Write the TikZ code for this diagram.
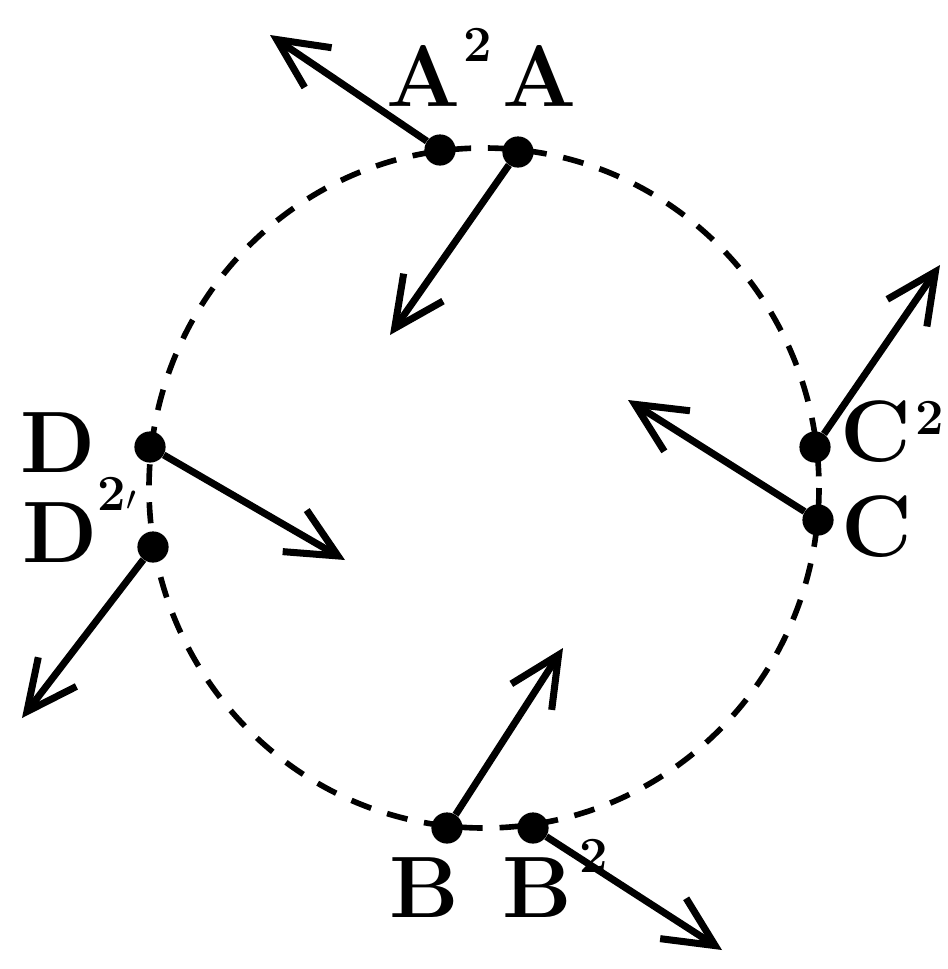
\documentclass[tikz,border=0pt]{standalone}
\usetikzlibrary{arrows.meta}
\begin{document}
\begin{tikzpicture}[x=0.025cm,y=-0.025cm,
  dot/.style={circle,fill,inner sep=0pt,minimum size=0.78cm},
  vec/.style={line width=5pt,-{Straight Barb[length=1.25cm,width=1.2cm,line width=5pt]}},
  lab/.style={inner sep=0pt,font=\fontsize{62}{66}\selectfont\bfseries},
  sup/.style={inner sep=0pt,font=\fontsize{36}{40}\selectfont\bfseries}]
\useasboundingbox[fill=white] (0,0) rectangle (948,969);
\draw[line width=4pt, dash pattern=on 15pt off 12pt] (484,488) ellipse [x radius=335, y radius=340];
% points
\node[dot] (A2) at (440,150) {};
\node[dot] (A)  at (518,152) {};
\node[dot] (C2) at (815,447) {};
\node[dot] (C)  at (818,520) {};
\node[dot] (D)  at (150,447) {};
\node[dot] (D2) at (153,547) {};
\node[dot] (B)  at (447,828) {};
\node[dot] (B2) at (533,828) {};
% arrow ends
\coordinate (eA2) at (270,35);
\coordinate (eA)  at (390,335);
\coordinate (eC)  at (628,400);
\coordinate (eC2) at (940,265);
\coordinate (eD)  at (345,560);
\coordinate (eD2) at (22,718);
\coordinate (eB)  at (563,648);
\coordinate (eB2) at (722,950);
\draw[vec] (A2) -- (eA2);
\draw[vec] (A) -- (eA);
\draw[vec] (C) -- (eC);
\draw[vec] (C2) -- (eC2);
\draw[vec] (D) -- (eD);
\draw[vec] (D2) -- (eD2);
\draw[vec] (B) -- (eB);
\draw[vec] (B2) -- (eB2);
% labels
\node[lab] (lA2) at (424,76) {A};
\node[sup] (sA2) at (478,45) {2};
\node[lab] (lA)  at (540,76) {A};
\node[lab] (lC2) at (876,432) {C};
\node[sup] (sC2) at (930,418) {2};
\node[lab] (lC)  at (877,527) {C};
\node[lab] (lD)  at (58,443) {D};
\node[lab] (lD2) at (60,533) {D};
\node[sup] (sD2) at (117,494) {2$\prime$};
\node[lab] (lB)  at (424,888) {B};
\node[lab] (lB2) at (537,888) {B};
\node[sup] (sB2) at (594,856) {2};
\end{tikzpicture}
\end{document}
